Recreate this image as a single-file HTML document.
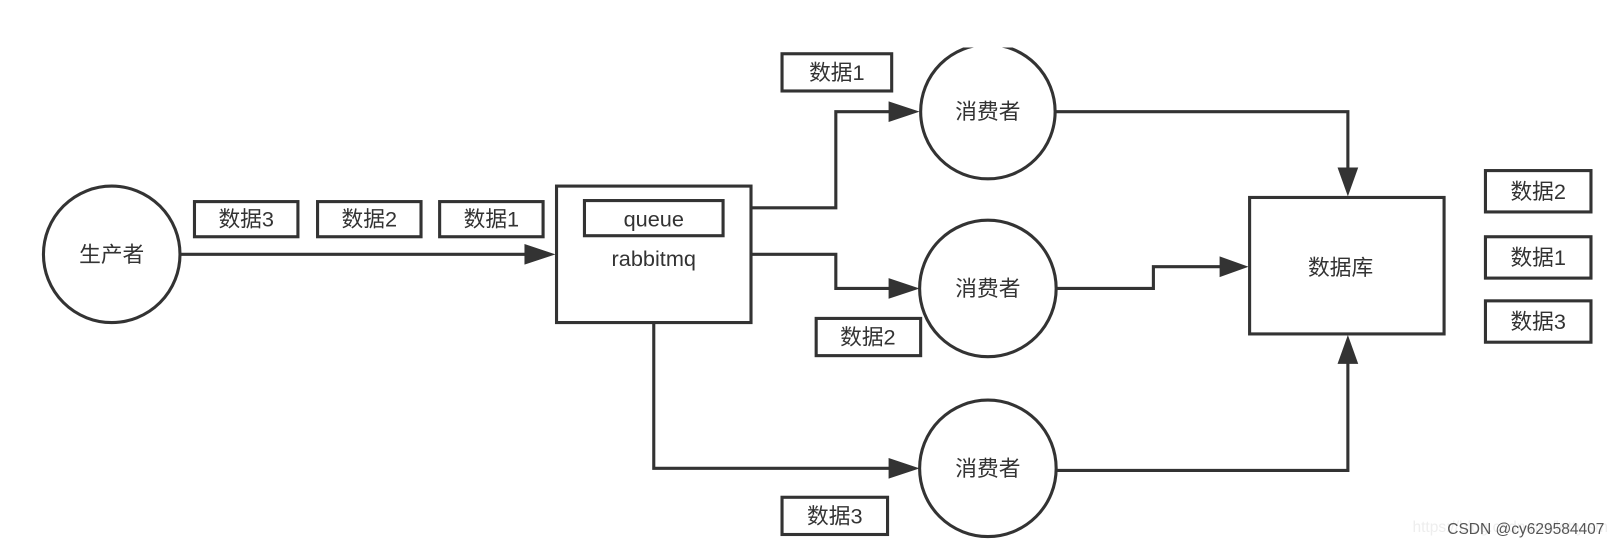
<!DOCTYPE html>
<html><head><meta charset="utf-8"><style>
html,body{margin:0;padding:0;background:#fff;width:1622px;height:550px;overflow:hidden}
svg{display:block}
text{font-family:"Liberation Sans","Noto Sans CJK SC",sans-serif;fill:#333;font-size:21px;text-anchor:middle;dominant-baseline:central}
</style></head><body>
<svg width="1622" height="550" viewBox="0 0 1568 532" preserveAspectRatio="none" xmlns="http://www.w3.org/2000/svg">
<defs><clipPath id="c"><rect x="0" y="46" width="1568" height="500"/></clipPath></defs>
<g stroke="#333" stroke-width="3" fill="none">
<circle cx="108" cy="246" r="66"/>
<rect x="188" y="195" width="100" height="34"/>
<rect x="307" y="195" width="100" height="34"/>
<rect x="425" y="195" width="100" height="34"/>
<path d="M174 246H520"/>
<rect x="538" y="180" width="188" height="132"/>
<rect x="565" y="194" width="134" height="34"/>
<circle cx="955" cy="108" r="65" clip-path="url(#c)"/>
<circle cx="955" cy="279" r="66"/>
<circle cx="955" cy="453" r="66"/>
<rect x="756" y="52" width="106" height="36"/>
<rect x="789" y="308" width="101" height="36"/>
<rect x="756" y="481" width="102" height="36"/>
<path d="M726 201H808V108H872"/>
<path d="M726 246H808V279H872"/>
<path d="M632 312V453H872"/>
<rect x="1208" y="191" width="188" height="132"/>
<path d="M1021 108H1303V174"/>
<path d="M1021 279H1115V258H1191"/>
<path d="M1021 455H1303V340"/>
<rect x="1436" y="165" width="102" height="40"/>
<rect x="1436" y="229" width="102" height="40"/>
<rect x="1436" y="291" width="102" height="40"/>
</g>
<g fill="#333">
<path d="M537 246L507 236V256Z"/>
<path d="M889 108L859 98V118Z"/>
<path d="M889 279L859 269V289Z"/>
<path d="M889 453L859 443V463Z"/>
<path d="M1303 190L1293 162H1313Z"/>
<path d="M1207 258L1179 248V268Z"/>
<path d="M1303 324L1293 352H1313Z"/>
</g>
<text x="108" y="246">生产者</text>
<text x="238" y="212">数据3</text>
<text x="357" y="212">数据2</text>
<text x="475" y="212">数据1</text>
<text x="632" y="212">queue</text>
<text x="632" y="250">rabbitmq</text>
<text x="809" y="70">数据1</text>
<text x="839" y="326">数据2</text>
<text x="807" y="499">数据3</text>
<text x="955" y="108">消费者</text>
<text x="955" y="279">消费者</text>
<text x="955" y="453">消费者</text>
<text x="1296" y="259">数据库</text>
<text x="1487" y="185">数据2</text>
<text x="1487" y="249">数据1</text>
<text x="1487" y="311">数据3</text>
<text x="1460" y="510" style="font-size:15px;fill:#eee">https://blog.csdn.net/lettyism</text>
<text x="1475" y="512" style="font-size:15px;fill:#555">CSDN @cy629584407</text>
</svg>
</body></html>
